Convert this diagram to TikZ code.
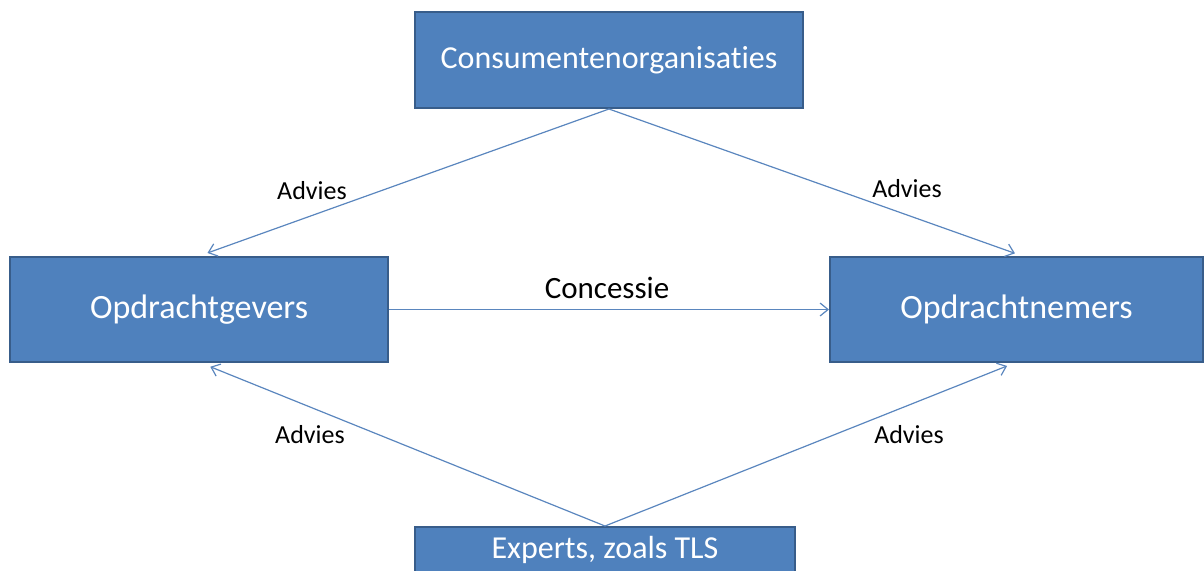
\documentclass[tikz,border=0pt]{standalone}
\usepackage{fontspec}
\setmainfont{Carlito}[Ligatures=NoCommon]
\usetikzlibrary{arrows.meta,positioning}
\definecolor{boxFill}{HTML}{4F81BD}
\definecolor{boxLine}{HTML}{385D8A}
\definecolor{lineColor}{HTML}{5A86BE}
\tikzset{>={Straight Barb[length=4pt,width=6.5pt]}}
\tikzset{partij/.style={draw=boxLine,fill=boxFill,line width=1pt,text=white,
    font=\fontsize{17}{20}\selectfont,inner sep=0pt},
  relatie/.style={->,draw=lineColor,line width=0.6pt},
  advies/.style={font=\fontsize{13}{15}\selectfont}}

\begin{document}
\begin{tikzpicture}[x=0.5pt,y=-0.5pt]
				\useasboundingbox (0,0) rectangle (1204,570);
				\node [partij,font=\fontsize{16}{19}\selectfont,minimum width=194pt,minimum height=48pt] (cons) at (609,60) {Consumentenorganisaties};
				\node [partij,minimum width=189pt,minimum height=52.5pt] (gevers) at (199,309.5) {Opdrachtgevers};
				\node [partij,minimum width=186.5pt,minimum height=52.5pt] (nemers) at (1016.5,309.5) {Opdrachtnemers};
				\node [partij,font=\fontsize{16}{19}\selectfont,minimum width=190pt,minimum height=23pt] (experts) at (605,550) {Experts, zoals TLS};
				
				\draw [relatie,shorten >=4.5pt] (cons.south) -- (gevers.north);
				\draw [relatie,shorten >=4pt] (cons.south) -- ([xshift=3pt]nemers.north);
				\draw [relatie] (gevers.east) -- (nemers.west);
				\draw [relatie,shorten >=5pt] (experts.north) -- ([xshift=1pt]gevers.south);
				\draw [relatie,shorten >=4pt] (experts.north) -- ([xshift=-1pt]nemers.south);
				
				\node [advies] (adv1) at (312,191) {Advies};
				\node [advies] (adv2) at (907,189) {Advies};
				\node [advies] (adv3) at (310,435) {Advies};
				\node [advies] (adv4) at (909,435) {Advies};
				\node [font=\fontsize{15.5}{18}\selectfont] (conc) at (607,288) {Concessie};
\end{tikzpicture}
\end{document}
